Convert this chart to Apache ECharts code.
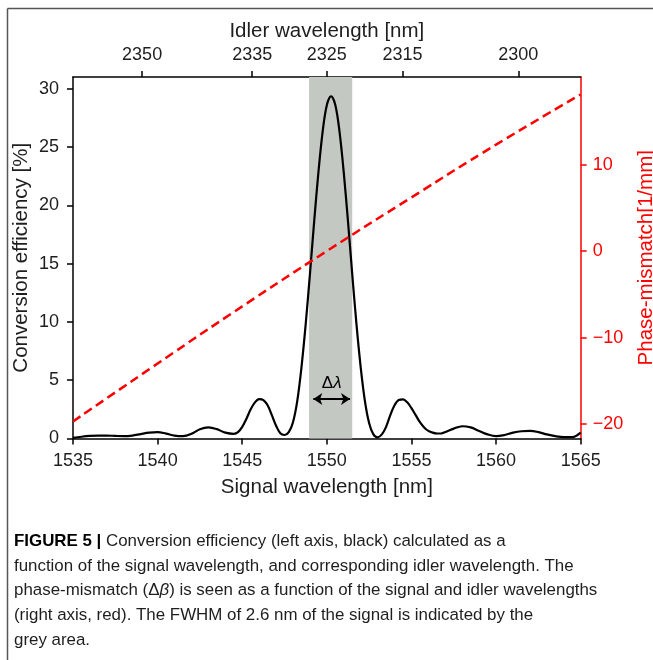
<!DOCTYPE html>
<html><head><meta charset="utf-8">
<script src="https://cdn.jsdelivr.net/npm/echarts@6/dist/echarts.min.js"></script>
<style>html,body{margin:0;padding:0;background:#fff}#c{width:653px;height:660px}</style>
</head><body><div id="c"></div>
<script>
// ---- data ----
const signalNm = [1535.0,1535.5,1536.0,1536.5,1537.0,1537.5,1538.0,1538.5,1539.0,1539.5,1540.0,1540.5,1541.0,1541.5,1542.0,1542.5,1543.0,1543.5,1544.0,1544.5,1544.75,1545.0,1545.25,1545.5,1545.75,1546.0,1546.25,1546.5,1546.75,1547.0,1547.25,1547.5,1547.75,1548.0,1548.25,1548.5,1548.75,1549.0,1549.25,1549.5,1549.75,1550.0,1550.25,1550.5,1550.75,1551.0,1551.25,1551.5,1551.75,1552.0,1552.25,1552.5,1552.75,1553.0,1553.25,1553.5,1553.75,1554.0,1554.25,1554.5,1554.75,1555.0,1555.25,1555.5,1555.75,1556.0,1556.25,1556.5,1556.75,1557.0,1557.5,1558.0,1558.5,1559.0,1559.5,1560.0,1560.5,1561.0,1561.5,1562.0,1562.5,1563.0,1563.5,1564.0,1564.5,1565.0];
const efficiency = [0.05,0.15,0.22,0.25,0.25,0.22,0.2,0.25,0.38,0.5,0.55,0.42,0.25,0.2,0.4,0.8,0.95,0.8,0.5,0.4,0.55,1.0,1.7,2.5,3.1,3.38,3.3,2.85,2.0,1.1,0.45,0.3,0.55,1.4,3.2,6.1,9.8,14.1,18.6,22.8,26.3,28.6,29.35,28.6,26.3,22.8,18.6,14.1,9.8,6.1,3.2,1.3,0.35,0.1,0.35,1.0,2.0,2.85,3.3,3.35,3.1,2.6,2.0,1.4,0.95,0.65,0.5,0.43,0.43,0.55,0.85,1.05,0.95,0.65,0.35,0.2,0.3,0.5,0.62,0.65,0.55,0.35,0.2,0.12,0.12,0.5];
const mismatchSignal = [1535, 1540, 1545, 1550, 1555, 1560, 1565];
const mismatchValues = [-19.7, -13.0, -6.4, 0.0, 6.2, 12.3, 18.1];
const idlerTicks = [2350, 2335, 2325, 2315, 2300];
const efficiencyTicks = [0, 5, 10, 15, 20, 25, 30];
const mismatchTicks = [-20, -10, 0, 10];
const fwhmRange = [1548.95, 1551.5];
const arrowSpan = [1549.2, 1551.37];
const arrowLevel = 3.38;
const pumpNm = 930; // 1/idler = 1/pump - 1/signal

const FONT = '"Liberation Sans", Arial, Helvetica, sans-serif';
const TXT = '#1e1e1e';
const RED = '#ff0000';

const toSignal = i => 1 / (1 / pumpNm - 1 / i);
const toIdler = s => 1 / (1 / pumpNm - 1 / s);
const idlerPositions = idlerTicks.map(toSignal);

const effData = signalNm.map((s, k) => [s, efficiency[k]]);
const misData = mismatchSignal.map((s, k) => [s, mismatchValues[k]]);

const chart = echarts.init(document.getElementById('c'), null, {renderer: 'canvas'});

const captionLines = [
  '{b|FIGURE 5 |} Conversion efficiency (left axis, black) calculated as a',
  'function of the signal wavelength, and corresponding idler wavelength. The',
  'phase-mismatch ({n|Δ}{i|β}) is seen as a function of the signal and idler wavelengths',
  '(right axis, red). The FWHM of 2.6 nm of the signal is indicated by the',
  'grey area.'
];
const captionY = [543, 567.5, 592, 617, 642];

const capFont = 16.9;
const graphics = [
  {type: 'line', shape: {x1: 7.5, y1: 8.5, x2: 7.5, y2: 660}, style: {stroke: '#555', lineWidth: 1.5}, silent: true},
  {type: 'line', shape: {x1: 7.5, y1: 8.5, x2: 653, y2: 8.5}, style: {stroke: '#555', lineWidth: 1.5}, silent: true}
];
captionLines.forEach((t, k) => {
  graphics.push({
    type: 'text', left: 14, top: captionY[k] - 10, silent: true,
    style: {
      text: t, fill: TXT, fontFamily: FONT, fontSize: capFont,
      rich: {
        b: {fontWeight: 'bold', fontFamily: FONT, fontSize: capFont, fill: '#000'},
        n: {fontFamily: FONT, fontSize: capFont, fill: TXT},
        i: {fontStyle: 'italic', fontFamily: FONT, fontSize: capFont, fill: TXT}
      }
    }
  });
});

const axisLabelBase = {fontFamily: FONT, fontSize: 18, color: TXT};
const nameBase = {fontFamily: FONT, fontSize: 20.5, color: TXT};

chart.setOption({
  animation: false,
  backgroundColor: '#fff',
  textStyle: {fontFamily: FONT},
  grid: {left: 73, right: 72.3, top: 77, bottom: 221.5, containLabel: false, outerBoundsMode: 'none'},
  xAxis: [
    {
      type: 'value', position: 'bottom', min: 1535, max: 1565, interval: 5,
      axisLine: {show: true, onZero: false, lineStyle: {color: '#000', width: 1.5}},
      axisTick: {show: true, length: 6, lineStyle: {color: '#000', width: 1.5}},
      axisLabel: Object.assign({margin: 14, formatter: v => String(v)}, axisLabelBase),
      splitLine: {show: false},
      name: 'Signal wavelength [nm]', nameLocation: 'middle', nameGap: 38, nameMoveOverlap: false,
      nameTextStyle: nameBase
    },
    {
      type: 'value', position: 'top', min: 1535, max: 1565,
      axisLine: {show: true, onZero: false, lineStyle: {color: '#000', width: 1.5}},
      axisTick: {show: true, length: 6, customValues: idlerPositions, lineStyle: {color: '#000', width: 1.5}},
      axisLabel: Object.assign({margin: 13, customValues: idlerPositions,
        formatter: v => String(Math.round(toIdler(v)))}, axisLabelBase),
      splitLine: {show: false},
      name: 'Idler wavelength [nm]', nameLocation: 'middle', nameGap: 35, nameMoveOverlap: false,
      nameTextStyle: nameBase
    }
  ],
  yAxis: [
    {
      type: 'value', position: 'left', min: 0, max: 31,
      axisLine: {show: true, onZero: false, lineStyle: {color: '#000', width: 1.5}},
      axisTick: {show: true, length: 6, customValues: efficiencyTicks, lineStyle: {color: '#000', width: 1.5}},
      axisLabel: Object.assign({margin: 14, customValues: efficiencyTicks, formatter: v => String(v)}, axisLabelBase),
      splitLine: {show: false},
      name: 'Conversion efficiency [%]', nameLocation: 'middle', nameGap: 41, nameRotate: 90, nameMoveOverlap: false,
      nameTextStyle: nameBase
    },
    {
      type: 'value', position: 'right', min: -21.67, max: 20.12,
      axisLine: {show: true, onZero: false, lineStyle: {color: RED, width: 1.5}},
      axisTick: {show: true, length: 6, customValues: mismatchTicks, lineStyle: {color: RED, width: 1.5}},
      axisLabel: Object.assign({}, axisLabelBase, {margin: 12, color: RED, customValues: mismatchTicks,
        formatter: v => v < 0 ? '\u2212' + Math.abs(v) : String(v)}),
      splitLine: {show: false},
      name: 'Phase-mismatch[1/mm]', nameLocation: 'middle', nameGap: 55, nameRotate: 90, nameMoveOverlap: false,
      nameTextStyle: Object.assign({}, nameBase, {color: RED})
    }
  ],
  series: [
    {
      name: 'efficiency', type: 'line', xAxisIndex: 0, yAxisIndex: 0,
      data: effData, smooth: 0.35, symbol: 'none', clip: true,
      lineStyle: {color: '#000', width: 2.2}, z: 3,
      markArea: {
        silent: true,
        itemStyle: {color: '#c4c8c3', opacity: 1},
        data: [[{xAxis: fwhmRange[0]}, {xAxis: fwhmRange[1]}]]
      },
      markLine: {
        silent: true, animation: false,
        symbol: ['arrow', 'arrow'], symbolSize: 9,
        lineStyle: {color: '#000', width: 1.8, type: 'solid'},
        label: {
          show: true, position: 'middle', distance: 7,
          formatter: '{n|Δ}{i|λ}',
          rich: {
            n: {fontFamily: FONT, fontSize: 17, color: '#000'},
            i: {fontFamily: FONT, fontSize: 17, color: '#000', fontStyle: 'italic'}
          }
        },
        data: [[{coord: [arrowSpan[0], arrowLevel]}, {coord: [arrowSpan[1], arrowLevel]}]]
      }
    },
    {
      name: 'mismatch', type: 'line', xAxisIndex: 0, yAxisIndex: 1,
      data: misData, smooth: true, symbol: 'none', z: 4,
      lineStyle: {color: RED, width: 2.5, type: [9, 5]}
    }
  ],
  graphic: graphics
});
</script>
</body></html>
